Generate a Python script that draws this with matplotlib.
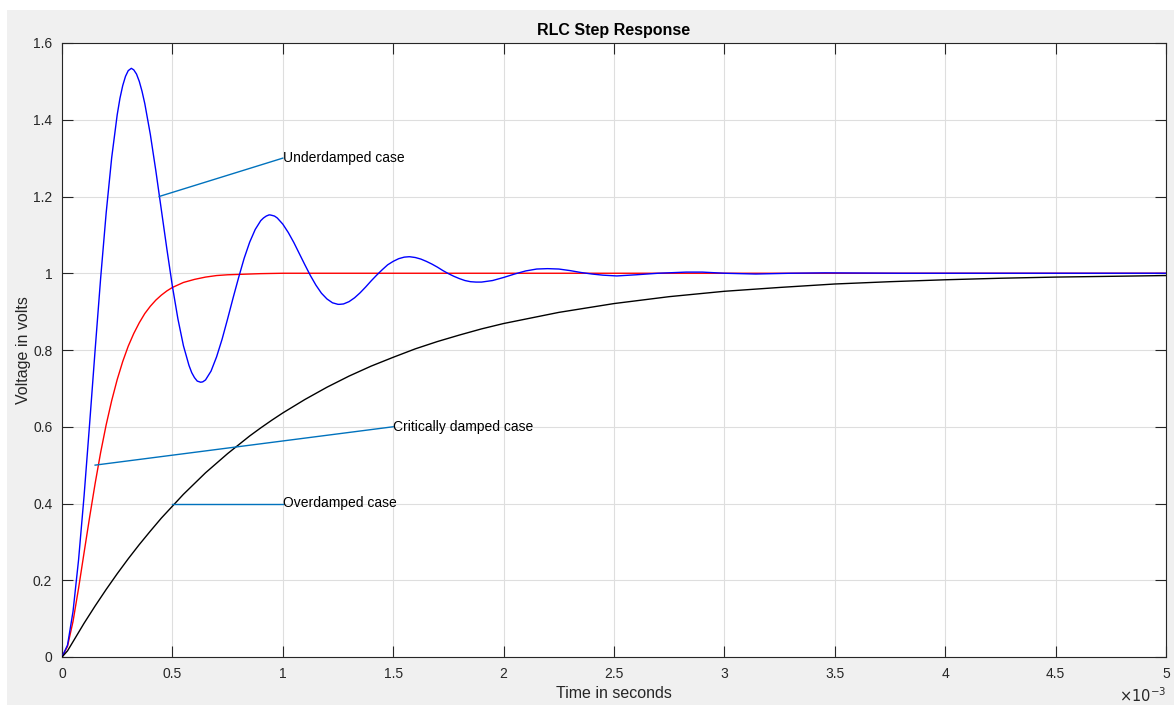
import matplotlib.pyplot as plt
from matplotlib.patches import Rectangle

plt.rcParams["font.family"] = ["Liberation Sans", "DejaVu Sans"]

# time axis in milliseconds (axis shows seconds x 10^-3)
t_under = [0.0, 0.025, 0.05, 0.075, 0.1, 0.125, 0.15, 0.175, 0.2, 0.225,
           0.25, 0.2625, 0.275, 0.2875, 0.3, 0.314, 0.325, 0.3375, 0.35, 0.3625, 0.375,
           0.4, 0.425, 0.45, 0.475, 0.5, 0.525, 0.55, 0.575, 0.5875, 0.6, 0.6125,
           0.628, 0.6375, 0.65, 0.675, 0.7, 0.725, 0.75, 0.775, 0.8, 0.825, 0.85,
           0.875, 0.9, 0.9125, 0.925, 0.9375, 0.942, 0.95, 0.9625, 0.975,
           1.0, 1.025, 1.05, 1.075, 1.1, 1.125, 1.15, 1.175, 1.2, 1.225, 1.25, 1.257,
           1.275, 1.3, 1.325, 1.35, 1.375, 1.4, 1.425, 1.45, 1.475, 1.5, 1.525, 1.55,
           1.571, 1.575, 1.6, 1.625, 1.65, 1.675, 1.7, 1.725, 1.75, 1.775, 1.8, 1.825,
           1.85, 1.875, 1.885, 1.9, 1.95, 2.0, 2.05, 2.1, 2.15, 2.199, 2.25, 2.3, 2.35,
           2.4, 2.45, 2.513, 2.6, 2.7, 2.827, 2.9, 3.0, 3.142, 3.3, 3.456, 3.8, 4.2, 4.6, 5.0]
v_under = [0.0, 0.031, 0.119, 0.253, 0.420, 0.607, 0.800, 0.987, 1.157, 1.301,
           1.413, 1.456, 1.489, 1.513, 1.528, 1.534, 1.530, 1.519, 1.500, 1.474, 1.442,
           1.362, 1.267, 1.165, 1.063, 0.966, 0.881, 0.811, 0.760, 0.741, 0.728, 0.719,
           0.716, 0.717, 0.722, 0.745, 0.782, 0.828, 0.881, 0.936, 0.989, 1.039, 1.081,
           1.114, 1.137, 1.144, 1.149, 1.152, 1.152, 1.151, 1.149, 1.144,
           1.128, 1.106, 1.080, 1.051, 1.022, 0.994, 0.969, 0.948, 0.933, 0.923, 0.919, 0.919,
           0.920, 0.926, 0.936, 0.949, 0.964, 0.980, 0.995, 1.009, 1.022, 1.031, 1.038, 1.042,
           1.043, 1.043, 1.041, 1.037, 1.031, 1.024, 1.016, 1.007, 0.999, 0.992, 0.986, 0.981,
           0.978, 0.977, 0.977, 0.977, 0.981, 0.989, 0.998, 1.006, 1.011, 1.012, 1.011, 1.007, 1.002,
           0.998, 0.995, 0.993, 0.996, 1.000, 1.003, 1.003, 1.000, 0.998, 1.000, 1.001, 1.000, 1.000, 1.000, 1.000]

t_crit = [0.0, 0.025, 0.05, 0.075, 0.1, 0.125, 0.15, 0.175, 0.2, 0.225,
          0.25, 0.275, 0.3, 0.325, 0.35, 0.375, 0.4, 0.425, 0.45, 0.475, 0.5,
          0.55, 0.6, 0.65, 0.7, 0.75, 0.8, 0.9, 1.0, 1.5, 2.0, 3.0, 4.0, 5.0]
v_crit = [0.0, 0.028, 0.093, 0.179, 0.272, 0.364, 0.452, 0.533, 0.605, 0.668,
          0.723, 0.770, 0.810, 0.843, 0.871, 0.895, 0.914, 0.930, 0.943, 0.954, 0.963,
          0.976, 0.984, 0.990, 0.994, 0.996, 0.997, 0.999, 1.000, 1.000, 1.000, 1.000, 1.000, 1.000]

t_over = [0.0, 0.025, 0.05, 0.1, 0.15, 0.2, 0.25, 0.3, 0.35, 0.4, 0.45, 0.5,
          0.55, 0.6, 0.65, 0.7, 0.75, 0.8, 0.85, 0.9, 0.95, 1.0, 1.1, 1.2, 1.3,
          1.4, 1.5, 1.6, 1.7, 1.8, 1.9, 2.0, 2.25, 2.5, 2.75,
          3.0, 3.25, 3.5, 3.75, 4.0, 4.25, 4.5, 4.75, 5.0]
v_over = [0.0, 0.016, 0.040, 0.088, 0.133, 0.176, 0.217, 0.256, 0.293, 0.328, 0.362, 0.393,
          0.424, 0.452, 0.480, 0.505, 0.530, 0.553, 0.576, 0.597, 0.617, 0.636, 0.671, 0.703, 0.732,
          0.758, 0.781, 0.803, 0.822, 0.839, 0.855, 0.869, 0.898, 0.921, 0.939,
          0.953, 0.963, 0.972, 0.978, 0.983, 0.987, 0.990, 0.992, 0.994]

# annotation arrows: (start_t, start_v, text_t, text_v, label)
notes = [
    (0.44, 1.20, 1.0, 1.30, "Underdamped case"),
    (0.15, 0.50, 1.5, 0.60, "Critically damped case"),
    (0.50, 0.40, 1.0, 0.40, "Overdamped case"),
]

x_ticks = [0, 0.5, 1, 1.5, 2, 2.5, 3, 3.5, 4, 4.5, 5]
x_labels = ["0", "0.5", "1", "1.5", "2", "2.5", "3", "3.5", "4", "4.5", "5"]
y_ticks = [0, 0.2, 0.4, 0.6, 0.8, 1.0, 1.2, 1.4, 1.6]
y_labels = ["0", "0.2", "0.4", "0.6", "0.8", "1", "1.2", "1.4", "1.6"]

AX_COL = "#262626"
NOTE_COL = "#0072BD"

fig = plt.figure(figsize=(11.74, 7.05), dpi=100, facecolor="white")
bg = fig.add_axes([0, 0, 1, 1])
bg.axis("off")
bg.set_xlim(0, 1)
bg.set_ylim(0, 1)
bg.add_patch(Rectangle((7 / 1174, 0), 1, 1 - 10 / 705, facecolor="#f0f0f0", edgecolor="none"))

ax = fig.add_axes([62 / 1174, 48 / 705, 1104 / 1174, 614 / 705])
ax.set_facecolor("white")

ax.plot(t_crit, v_crit, color="#ff0000", lw=1.0, zorder=3)
ax.plot(t_under, v_under, color="#0000ff", lw=1.0, zorder=3)
ax.plot(t_over, v_over, color="black", lw=1.0, zorder=3)

for t0, v0, t1, v1, label in notes:
    ax.plot([t0, t1], [v0, v1], color=NOTE_COL, lw=1.0, zorder=4)
    ax.text(t1, v1, label, fontsize=10, va="center", ha="left", color="black", zorder=5)

ax.set_xlim(0, 5)
ax.set_ylim(0, 1.6)
ax.set_xticks(x_ticks)
ax.set_xticklabels(x_labels)
ax.set_yticks(y_ticks)
ax.set_yticklabels(y_labels)
ax.grid(True, color="#dedede", lw=0.8)
ax.set_axisbelow(True)
ax.tick_params(direction="in", length=8, width=0.8, colors=AX_COL, labelsize=10,
               top=True, right=True, pad=7)
for s in ax.spines.values():
    s.set_color(AX_COL)
    s.set_linewidth(0.8)

ax.set_title("RLC Step Response", fontsize=11.5, fontweight="bold", pad=6)
ax.set_xlabel("Time in seconds", fontsize=11.5, color=AX_COL)
ax.set_ylabel("Voltage in volts", fontsize=11.5, color=AX_COL)
ax.xaxis.set_label_coords(0.5, -0.048)
ax.yaxis.set_label_coords(-0.028, 0.5)
ax.text(1.0, -0.074, r"$\times10^{-3}$", transform=ax.transAxes, ha="right", va="baseline",
        fontsize=10.5, color=AX_COL)

fig.savefig("out.png", dpi=100, facecolor=fig.get_facecolor())
